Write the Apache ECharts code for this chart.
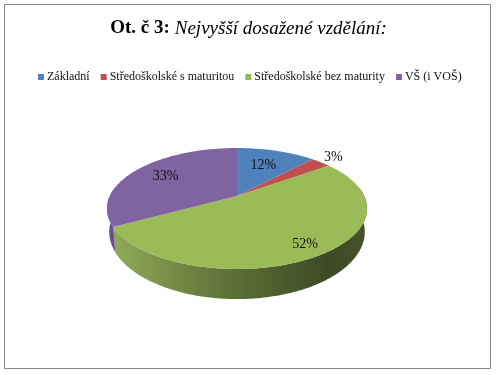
<!DOCTYPE html>
<html>
<head>
<meta charset="utf-8">
<style>
  html, body { margin: 0; padding: 0; background: #fff; }
  #chart { width: 497px; height: 375px; }
</style>
<script src="https://cdn.jsdelivr.net/npm/echarts@6/dist/echarts.min.js"></script>
</head>
<body>
<div id="chart"></div>
<script>
const categories = ['Základní', 'Středoškolské s maturitou', 'Středoškolské bez maturity', 'VŠ (i VOŠ)']
const values = [12, 3, 52, 33]
const colors = ['#4f81bd', '#c0504d', '#9bbb59', '#8064a2']
const labelRadius = [0.63, 1.17, 0.85, 0.7]
const total = values.reduce((a, b) => a + b, 0)

// tilted disc: circle seen in perspective, so the apex sits above the ellipse middle
const topFace = { x: 237, y: 196, sx: 127.2, sy: 57.9 }
const bottomFace = { x: 237, y: 218, sx: 125, sy: 64.3 }
const perspective = -0.2066

function project(face, angle, r) {
  const u = r * Math.sin(angle)
  const v = -r * Math.cos(angle)
  const d = 1 + perspective * v
  return [face.x + face.sx * u / d, face.y + face.sy * v / d]
}

function arc(face, from, to) {
  const n = Math.max(2, Math.ceil((to - from) / 0.02))
  const pts = []
  for (let i = 0; i <= n; i++) pts.push(project(face, from + (to - from) * i / n, 1))
  return pts
}

function wallFill(color, index) {
  if (index === 2) {
    return new echarts.graphic.LinearGradient(110, 0, 367, 0, [
      { offset: 0, color: '#90ac58' },
      { offset: 0.45, color: '#5f7338' },
      { offset: 0.85, color: '#3d4925' },
      { offset: 1, color: '#465329' }
    ], true)
  }
  return '#6a4f8f'
}

function renderSlice(index, api) {
  const before = values.slice(0, index).reduce((a, b) => a + b, 0)
  const from = before / total * Math.PI * 2
  const to = (before + api.value(0)) / total * Math.PI * 2
  const color = colors[index]
  const children = []

  // only the front of the rim shows a wall
  const wallFrom = Math.max(from, Math.PI * 0.45)
  const wallTo = Math.min(to, Math.PI * 1.55)
  if (wallTo > wallFrom) {
    children.push({
      type: 'polygon',
      z2: 1,
      shape: { points: arc(topFace, wallFrom, wallTo).concat(arc(bottomFace, wallFrom, wallTo).reverse()) },
      style: { fill: wallFill(color, index) }
    })
  }

  children.push({
    type: 'polygon',
    z2: 2,
    shape: { points: [[topFace.x, topFace.y]].concat(arc(topFace, from, to)) },
    style: { fill: color }
  })

  const mid = project(topFace, (from + to) / 2, labelRadius[index])
  children.push({
    type: 'text',
    z2: 3,
    style: {
      text: api.value(0) + '%',
      x: mid[0],
      y: mid[1],
      align: 'center',
      verticalAlign: 'middle',
      fill: '#111',
      font: '14px "Liberation Serif"'
    }
  })

  return { type: 'group', children }
}

const chart = echarts.init(document.getElementById('chart'))
chart.setOption({
  animation: false,
  backgroundColor: '#fff',
  title: {
    left: 'center',
    top: 14,
    text: '{b|Ot. č 3:} {i|Nejvyšší dosažené vzdělání:}',
    textStyle: {
      rich: {
        b: { fontFamily: 'Liberation Serif', fontSize: 19, fontWeight: 'bold', fontStyle: 'normal', color: '#000' },
        i: { fontFamily: 'Liberation Serif', fontSize: 19, fontWeight: 'normal', fontStyle: 'italic', color: '#000' }
      }
    }
  },
  legend: {
    left: 33,
    top: 66,
    icon: 'rect',
    itemWidth: 6,
    itemHeight: 6,
    itemGap: 11,
    data: categories,
    textStyle: { fontFamily: 'Liberation Serif', fontSize: 12, color: '#111', padding: [0, 0, 0, -2] }
  },
  graphic: [{
    type: 'rect',
    silent: true,
    shape: { x: 4.5, y: 4.5, width: 486, height: 364 },
    style: { fill: 'none', stroke: '#868686', lineWidth: 1 }
  }],
  series: categories.map((name, index) => ({
    type: 'custom',
    name,
    coordinateSystem: 'none',
    itemStyle: { color: colors[index] },
    data: [[values[index]]],
    renderItem: (params, api) => renderSlice(index, api)
  }))
})
</script>
</body>
</html>
